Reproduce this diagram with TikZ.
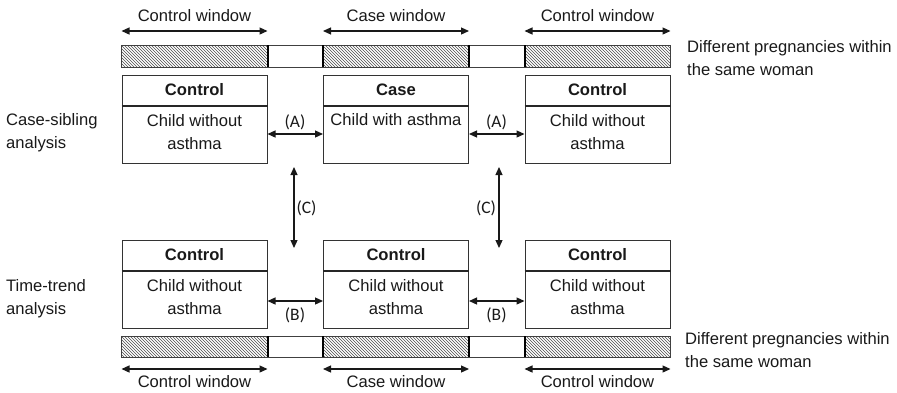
\documentclass[tikz,border=0pt]{standalone}
\usepackage{fontspec}
\setmainfont{Liberation Sans}
\newfontfamily\calfont{Carlito}
\usetikzlibrary{arrows.meta,patterns}
\begin{document}
\begin{tikzpicture}[x=1pt,y=-1pt,
  font=\fontsize{16.6}{23}\selectfont,
  txt/.style={text=black!90, inner sep=0pt},
  box/.style={draw=black!80, line width=1pt, minimum width=145pt, minimum height=88pt, inner sep=0pt},
  head/.style={draw=black!80, line width=1pt, minimum width=145pt, minimum height=30pt, inner sep=0pt, font=\fontsize{16.6}{23}\selectfont\bfseries, text=black!90},
  divider/.style={line width=2pt, black!85},
  body/.style={txt, align=center},
  side/.style={txt, align=left, anchor=west},
  lab/.style={txt, font=\calfont\fontsize{17.5}{20}\selectfont},
  arr/.style={{Triangle[length=8pt,width=7pt]}-{Triangle[length=8pt,width=7pt]}, line width=1.2pt, black!90},
  hatch/.style={pattern=north west lines, pattern color=black!70},
  barline/.style={draw=black!75, line width=1pt},
  edge/.style={line width=2pt, black}
]
\useasboundingbox (0,0) rectangle (897,392);

% ---------- top row ----------
\node[box] (t1) at (194.5,119) {};
\node[box] (t2) at (396,119) {};
\node[box] (t3) at (597.5,119) {};
\node[head, anchor=north] (th1) at (t1.north) {Control};
\node[head, anchor=north] (th2) at (t2.north) {Case};
\node[head, anchor=north] (th3) at (t3.north) {Control};
\draw[divider] (th1.south west) -- (th1.south east);
\draw[divider] (th2.south west) -- (th2.south east);
\draw[divider] (th3.south west) -- (th3.south east);
\node[body] (tb1) at ([yshift=-57.5pt]t1.north) {Child without\\asthma};
\node[body] (tb2) at ([yshift=-45pt]t2.north) {Child with asthma};
\node[body] (tb3) at ([yshift=-57.5pt]t3.north) {Child without\\asthma};

% ---------- bottom row ----------
\node[box] (b1) at (194.5,284) {};
\node[box] (b2) at (396,284) {};
\node[box] (b3) at (597.5,284) {};
\node[head, anchor=north] (bh1) at (b1.north) {Control};
\node[head, anchor=north] (bh2) at (b2.north) {Control};
\node[head, anchor=north] (bh3) at (b3.north) {Control};
\draw[divider] (bh1.south west) -- (bh1.south east);
\draw[divider] (bh2.south west) -- (bh2.south east);
\draw[divider] (bh3.south west) -- (bh3.south east);
\node[body] (bb1) at ([yshift=-57.5pt]b1.north) {Child without\\asthma};
\node[body] (bb2) at ([yshift=-57.5pt]b2.north) {Child without\\asthma};
\node[body] (bb3) at ([yshift=-57.5pt]b3.north) {Child without\\asthma};

% ---------- bars ----------
\foreach \ya/\yb in {45/67, 336/357} {
  \fill[white] (t1.west |- 0,\ya) rectangle (t3.east |- 0,\yb);
  \fill[hatch] (t1.west |- 0,\ya) rectangle (t1.east |- 0,\yb);
  \fill[hatch] (t2.west |- 0,\ya) rectangle (t2.east |- 0,\yb);
  \fill[hatch] (t3.west |- 0,\ya) rectangle (t3.east |- 0,\yb);
  \draw[barline] (t1.west |- 0,\ya) rectangle (t3.east |- 0,\yb);
  \draw[edge] (t1.east |- 0,\ya) -- (t1.east |- 0,\yb);
  \draw[edge] (t2.west |- 0,\ya) -- (t2.west |- 0,\yb);
  \draw[edge] (t2.east |- 0,\ya) -- (t2.east |- 0,\yb);
  \draw[edge] (t3.west |- 0,\ya) -- (t3.west |- 0,\yb);
}

% ---------- window arrows ----------
\draw[arr] (t1.west |- 0,31) -- (t1.east |- 0,31);
\draw[arr] (t2.west |- 0,31) -- (t2.east |- 0,31);
\draw[arr] (t3.west |- 0,31) -- (t3.east |- 0,31);
\node[txt] (w1) at (t1.center |- 0,16) {Control window};
\node[txt] (w2) at (t2.center |- 0,16) {Case window};
\node[txt] (w3) at (t3.center |- 0,16) {Control window};

\draw[arr] (b1.west |- 0,369) -- (b1.east |- 0,369);
\draw[arr] (b2.west |- 0,369) -- (b2.east |- 0,369);
\draw[arr] (b3.west |- 0,369) -- (b3.east |- 0,369);
\node[txt] (w4) at (b1.center |- 0,382) {Control window};
\node[txt] (w5) at (b2.center |- 0,382) {Case window};
\node[txt] (w6) at (b3.center |- 0,382) {Control window};

% ---------- (A) ----------
\draw[arr] (t1.east |- 0,134) -- (t2.west |- 0,134);
\draw[arr] (t2.east |- 0,134) -- (t3.west |- 0,134);
\node[lab] (la1) at (295,122) {(A)};
\node[lab] (la2) at (496.5,122) {(A)};

% ---------- (B) ----------
\draw[arr] (b1.east |- 0,301) -- (b2.west |- 0,301);
\draw[arr] (b2.east |- 0,301) -- (b3.west |- 0,301);
\node[lab] (lb1) at (295,315) {(B)};
\node[lab] (lb2) at (496.5,315) {(B)};

% ---------- (C) ----------
\coordinate (c1t) at (294,167);
\coordinate (c1b) at (294,248);
\coordinate (c2t) at (499,167);
\coordinate (c2b) at (499,248);
\draw[arr] (c1t) -- (c1b);
\draw[arr] (c2t) -- (c2b);
\node[lab] (lc1) at (306.5,208) {(C)};
\node[lab] (lc2) at (486,208) {(C)};

% ---------- side labels ----------
\node[side] (s1) at (6,132.5) {Case-sibling\\analysis};
\node[side] (s2) at (6,299) {Time-trend\\analysis};
\node[side] (r1) at (687,58.5) {Different pregnancies within\\the same woman};
\node[side] (r2) at (685,350) {Different pregnancies within\\the same woman};
\end{tikzpicture}
\end{document}
